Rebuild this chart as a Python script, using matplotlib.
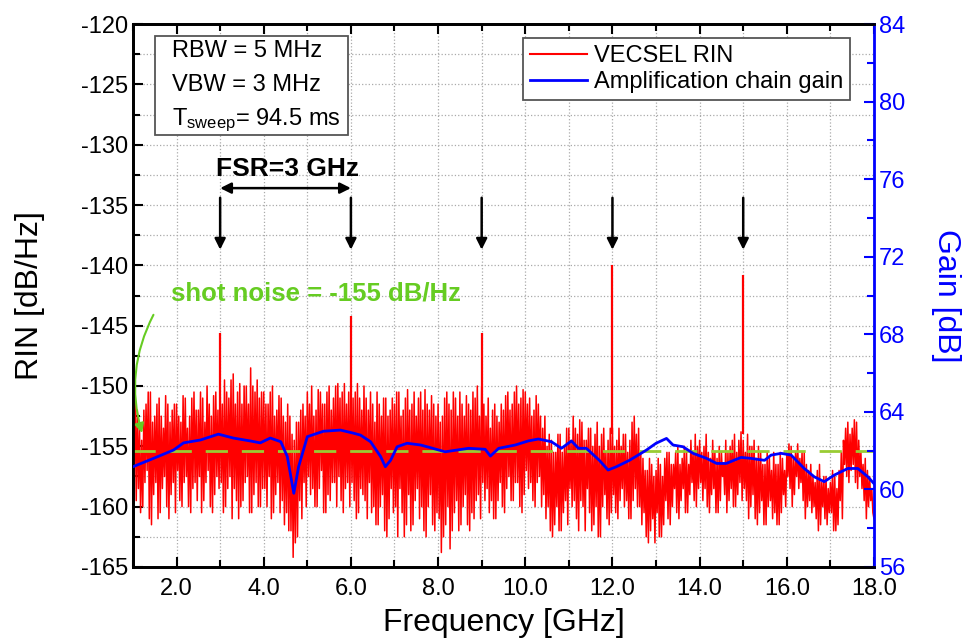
import matplotlib
matplotlib.use('Agg')
import matplotlib.pyplot as plt
from matplotlib.ticker import MultipleLocator, FormatStrFormatter
from matplotlib.lines import Line2D
from matplotlib.patches import Rectangle

plt.rcParams['font.family'] = ['Liberation Sans', 'DejaVu Sans']
plt.rcParams['axes.unicode_minus'] = False
plt.rcParams['mathtext.fontset'] = 'custom'
plt.rcParams['mathtext.rm'] = 'Liberation Sans'
plt.rcParams['mathtext.it'] = 'Liberation Sans:italic'

# ---------------- data ----------------
# RIN trace, sampled every 0.025 GHz as (max, min2, max2, min) per 0.1 GHz
# main maxima at 1.0, 1.1, ... 18.0 GHz
rin_hi = [
    -153.0, -152.0, -154.5, -151.5, -150.5, -152.5, -151.0, -153.5, -151.5, -152.0,  # 1.x
    -151.5, -153.0, -151.0, -152.5, -150.5, -152.0, -151.0, -150.0, -152.5, -150.5,  # 2.x
    -150.0, -149.5, -151.0, -149.0, -150.5, -151.5, -150.0, -148.5, -150.5, -151.0,  # 3.x
    -150.5, -151.5, -150.0, -152.0, -151.0, -153.0, -152.5, -154.5, -153.0, -151.5,  # 4.x
    -150.5, -150.0, -152.0, -150.5, -151.5, -150.0, -151.0, -149.8, -150.5, -151.5,  # 5.x
    -149.5, -150.5, -151.0, -150.0, -152.0, -151.5, -150.5, -152.5, -151.0, -152.0,  # 6.x
    -151.5, -150.5, -152.0, -150.3, -151.5, -152.5, -150.5, -150.3, -152.0, -151.5,  # 7.x
    -151.5, -152.5, -150.5, -152.0, -151.0, -150.5, -152.5, -151.5, -150.5, -150.0,  # 8.x
    -150.0, -152.5, -153.5, -151.5, -153.0, -152.0, -150.5, -151.5, -150.0, -151.0,  # 9.x
    -150.5, -151.0, -152.0, -151.5, -153.5, -155.0, -154.5, -155.5, -154.0, -155.0,  # 10.x
    -153.5, -152.5, -154.0, -153.0, -154.5, -153.5, -154.0, -155.0, -153.5, -154.5,  # 11.x
    -153.5, -154.5, -155.0, -154.0, -154.5, -152.5, -153.5, -156.0, -157.0, -156.5,  # 12.x
    -157.0, -156.5, -156.0, -155.5, -156.5, -155.0, -156.0, -155.5, -154.5, -154.0,  # 13.x
    -154.5, -155.0, -155.5, -154.5, -156.0, -155.5, -154.5, -155.0, -154.0, -154.5,  # 14.x
    -154.5, -154.0, -155.0, -156.0, -155.5, -156.5, -156.0, -155.5, -156.5, -156.0,  # 15.x
    -155.5, -155.0, -155.5, -156.0, -155.5, -157.0, -157.5, -157.0, -158.0, -157.5,  # 16.x
    -158.0, -157.5, -157.0, -154.5, -153.0, -153.5, -153.0, -155.5, -156.0, -157.5,  # 17.x
    -161.0,                                                                          # 18.0
]
# secondary minima at 1.025, 1.125, ... GHz
rin_lo2 = [
    -157.5, -158.5, -160.0, -157.0, -161.5, -158.0, -160.5, -157.5, -161.0, -158.0,
    -157.0, -160.0, -157.5, -160.5, -158.0, -157.5, -159.5, -157.0, -160.5, -157.5,
    -158.0, -160.0, -157.5, -158.5, -161.0, -159.5, -157.5, -160.5, -158.0, -160.0,
    -158.5, -157.5, -160.5, -158.0, -159.5, -160.5, -162.0, -163.0, -159.5, -158.0,
    -157.5, -158.5, -160.0, -157.0, -160.5, -159.5, -158.0, -157.5, -160.5, -158.0,
    -158.0, -161.0, -158.5, -159.5, -158.0, -160.0, -161.5, -159.0, -162.5, -158.5,
    -160.0, -158.5, -162.5, -159.0, -161.5, -158.5, -160.0, -162.5, -159.0, -162.0,
    -161.0, -162.5, -160.0, -162.0, -159.5, -161.5, -159.0, -162.0, -161.0, -159.0,
    -158.0, -158.5, -159.5, -161.0, -158.0, -160.5, -157.5, -159.5, -158.0, -160.5,
    -157.0, -158.0, -160.0, -157.5, -159.0, -160.0, -162.5, -160.0, -162.0, -159.5,
    -158.5, -159.5, -162.0, -160.0, -158.5, -162.0, -160.0, -162.5, -159.0, -161.5,
    -159.0, -161.0, -158.5, -159.5, -161.0, -158.5, -160.0, -160.5, -163.0, -161.0,
    -160.5, -162.5, -159.5, -161.5, -158.5, -161.0, -158.5, -160.5, -158.0, -160.0,
    -158.0, -158.5, -160.5, -158.5, -160.5, -157.5, -160.5, -158.5, -160.0, -158.0,
    -158.5, -161.0, -159.0, -161.5, -159.5, -161.5, -159.5, -160.5, -161.5, -159.0,
    -157.5, -160.0, -157.5, -158.0, -161.0, -159.5, -160.0, -162.0, -160.0, -161.5,
    -160.5, -162.0, -159.5, -156.5, -158.0, -156.5, -158.5, -158.5, -161.0, -159.5,
]
# secondary maxima at 1.05, 1.15, ... GHz
rin_hi2 = [
    -151.0, -153.5, -152.0, -150.5, -153.0, -151.5, -152.5, -150.8, -153.0, -151.5,
    -152.5, -150.8, -153.5, -151.0, -152.0, -150.5, -153.0, -151.5, -150.8, -152.0,
    -151.5, -150.5, -149.5, -151.5, -149.8, -150.0, -151.5, -150.0, -149.5, -150.5,
    -151.5, -150.5, -152.5, -150.8, -152.5, -151.5, -154.0, -153.0, -152.0, -152.5,
    -151.5, -152.5, -150.3, -151.5, -150.5, -152.0, -150.0, -151.0, -149.8, -150.5,
    -151.0, -149.8, -152.0, -151.0, -150.5, -153.0, -151.5, -151.0, -152.5, -151.0,
    -150.5, -152.5, -151.0, -152.0, -150.5, -151.0, -152.0, -151.5, -150.8, -152.5,
    -153.0, -151.0, -151.5, -150.5, -152.5, -151.5, -150.8, -152.0, -151.0, -152.5,
    -151.5, -151.0, -152.0, -152.5, -151.5, -150.8, -152.0, -150.5, -151.5, -150.3,
    -151.5, -152.5, -150.8, -152.5, -152.5, -154.0, -155.5, -154.0, -155.5, -153.5,
    -154.5, -153.5, -152.8, -154.5, -153.5, -155.0, -153.0, -154.0, -155.5, -153.5,
    -155.0, -153.5, -154.0, -155.5, -153.0, -154.0, -155.5, -157.0, -156.0, -157.5,
    -156.0, -157.5, -155.5, -156.5, -155.5, -156.5, -155.0, -156.5, -155.5, -155.0,
    -155.5, -154.0, -156.0, -155.5, -155.0, -156.5, -155.5, -154.5, -155.5, -153.8,
    -155.5, -155.0, -154.5, -155.0, -156.5, -155.5, -157.0, -156.5, -155.5, -157.0,
    -154.8, -156.0, -154.8, -155.5, -156.5, -156.5, -158.0, -156.5, -157.5, -158.5,
    -157.0, -158.5, -155.5, -153.5, -154.0, -152.8, -154.5, -156.5, -157.0, -158.5,
]
# main minima at 1.075, 1.175, ... GHz
rin_lo = [
    -159.5, -160.5, -158.0, -161.0, -159.0, -161.0, -158.5, -160.0, -159.0, -160.5,
    -159.5, -158.0, -160.0, -158.5, -159.5, -160.5, -158.0, -160.0, -159.0, -158.5,
    -160.5, -158.5, -161.0, -159.5, -160.0, -158.0, -160.5, -159.0, -160.0, -158.5,
    -160.0, -161.0, -159.0, -160.5, -161.5, -162.0, -164.2, -162.5, -161.0, -160.0,
    -159.0, -160.0, -158.5, -160.5, -159.0, -158.0, -160.0, -159.5, -158.5, -160.0,
    -159.5, -160.5, -159.0, -161.0, -160.5, -161.5, -160.0, -162.0, -161.0, -160.5,
    -162.5, -160.5, -161.5, -162.0, -159.5, -161.0, -162.0, -160.0, -161.5, -160.5,
    -163.8, -161.5, -163.5, -160.5, -162.0, -160.0, -161.5, -160.5, -159.5, -161.0,
    -159.5, -160.5, -161.0, -159.5, -160.0, -158.5, -159.5, -158.0, -160.0, -159.0,
    -158.5, -159.5, -158.0, -160.0, -161.0, -162.0, -161.5, -162.0, -160.5, -161.5,
    -160.0, -161.0, -159.5, -162.0, -160.5, -161.5, -162.5, -160.0, -161.0, -160.5,
    -160.5, -159.5, -160.0, -161.0, -159.5, -160.0, -161.5, -162.5, -162.0, -163.0,
    -162.5, -161.5, -161.0, -160.0, -160.5, -159.5, -160.5, -159.0, -159.5, -158.5,
    -159.5, -160.0, -159.0, -160.5, -159.5, -159.0, -159.5, -160.0, -159.0, -159.5,
    -159.5, -160.0, -161.0, -160.5, -161.5, -160.0, -161.0, -161.5, -160.5, -160.0,
    -158.5, -159.0, -158.5, -159.5, -160.0, -160.5, -161.0, -161.5, -161.0, -160.5,
    -162.0, -161.5, -161.0, -157.5, -157.0, -158.0, -157.5, -159.5, -160.0, -160.5,
]
# Cavity-mode peaks (FSR = 3 GHz)
spike_freqs = [3.0, 6.0, 9.0, 12.0, 15.0]
spike_peaks = [-145.6, -144.2, -145.6, -140.0, -140.8]
spike_base = -154.0

# Amplification chain gain (right axis, dB)
gain_freq = [1.0, 1.47, 1.93, 2.16, 2.55, 2.96, 3.3, 3.69, 3.92, 4.15, 4.39, 4.54, 4.69,
             4.8, 5.0, 5.37, 5.76, 6.06, 6.22, 6.45, 6.68, 6.79, 6.91, 7.06, 7.29, 7.6,
             7.83, 8.16, 8.7, 9.08, 9.2, 9.39, 9.77, 10.07, 10.3, 10.6, 10.83, 11.06,
             11.22, 11.4, 11.7, 11.9, 12.09, 12.39, 12.78, 13.0, 13.24, 13.39, 13.62,
             13.85, 14.16, 14.39, 14.61, 14.95, 15.18, 15.49, 15.64, 15.87, 16.1, 16.4,
             16.63, 16.86, 17.09, 17.4, 17.63, 17.86, 18.0]
gain_vals = [61.17, 61.6, 62.03, 62.4, 62.55, 62.85, 62.65, 62.5, 62.4, 62.65, 62.46, 61.7,
             59.8, 61.17, 62.72, 63.0, 63.06, 62.9, 62.8, 62.46, 61.7, 61.17, 61.5, 62.2,
             62.38, 62.29, 62.15, 61.94, 62.12, 62.07, 61.72, 62.12, 62.29, 62.5, 62.6,
             62.46, 62.12, 62.5, 62.12, 62.12, 61.5, 61.0, 61.17, 61.5, 62.03, 62.38,
             62.63, 62.29, 62.2, 61.86, 61.6, 61.34, 61.34, 61.65, 61.6, 61.5, 61.77,
             61.86, 61.77, 61.08, 60.65, 60.4, 60.74, 61.08, 61.08, 60.65, 60.3]

shot_noise_level = -155.4
arrow_freqs = [3.0, 6.0, 9.0, 12.0, 15.0]

# ---------------- build RIN trace ----------------
rin_freq, rin_vals = [], []
for i in range(len(rin_lo)):
    f0 = 1.0 + 0.1 * i
    rin_freq += [round(f0, 4), round(f0 + 0.025, 4), round(f0 + 0.05, 4), round(f0 + 0.075, 4)]
    rin_vals += [rin_hi[i], rin_lo2[i], rin_hi2[i], rin_lo[i]]
rin_freq.append(18.0)
rin_vals.append(rin_hi[-1])

# ---------------- figure ----------------
fig = plt.figure(figsize=(9.67, 6.39), dpi=100)
ax = fig.add_axes([0.1375, 0.1127, 0.7663, 0.8497])
ax2 = ax.twinx()

RED = '#ff0000'
BLUE = '#0000ff'
GREEN_T = '#66cc22'
GREEN_L = '#99cc33'

ax.plot(rin_freq, rin_vals, color=RED, lw=1.1, zorder=3)
ax.vlines(spike_freqs, spike_base, spike_peaks, color=RED, lw=1.6, zorder=3)
ax.axhline(shot_noise_level, color=GREEN_L, lw=2.0, dashes=(8, 5), zorder=5)

ax2.plot(gain_freq, gain_vals, color=BLUE, lw=2.0, zorder=4)

ax.set_xlim(1, 18)
ax.set_ylim(-165, -120)
ax2.set_ylim(56, 84)

ax.xaxis.set_major_locator(MultipleLocator(2))
ax.xaxis.set_minor_locator(MultipleLocator(1))
ax.xaxis.set_major_formatter(FormatStrFormatter('%.1f'))
ax.yaxis.set_major_locator(MultipleLocator(5))
ax.yaxis.set_minor_locator(MultipleLocator(2.5))
ax2.yaxis.set_major_locator(MultipleLocator(4))
ax2.yaxis.set_minor_locator(MultipleLocator(2))

ax.grid(True, which='both', color='#aaaaaa', ls=':', lw=0.9)
ax.set_axisbelow(True)

ax.tick_params(axis='both', which='both', direction='in', top=True, labelsize=17, width=1.5)
ax.tick_params(which='major', length=7)
ax.tick_params(which='minor', length=5)
ax.tick_params(axis='x', pad=8)
ax2.tick_params(axis='y', which='both', direction='in', colors=BLUE, labelsize=17, width=1.5)
ax2.tick_params(which='major', length=7)
ax2.tick_params(which='minor', length=5)

for s in ['left', 'bottom', 'top']:
    ax.spines[s].set_linewidth(2)
    ax2.spines[s].set_linewidth(2)
ax2.spines['right'].set_color(BLUE)
ax2.spines['right'].set_linewidth(2)

ax.set_xlabel('Frequency [GHz]', fontsize=23, labelpad=6)
ax.set_ylabel('RIN [dB/Hz]', fontsize=23, labelpad=26)
ax2.set_ylabel('Gain [dB]', fontsize=23, color=BLUE, rotation=270, labelpad=40)

# info box
ax.add_patch(Rectangle((0.0297, 0.7956), 0.2605, 0.1824, transform=ax.transAxes,
                       facecolor='white', edgecolor='#555555', lw=1.3, zorder=6))
ax.text(0.0526, 0.939, 'RBW = 5 MHz', transform=ax.transAxes, fontsize=17, zorder=7)
ax.text(0.0526, 0.877, 'VBW = 3 MHz', transform=ax.transAxes, fontsize=17, zorder=7)
ax.text(0.0526, 0.814, r'T$_{\mathrm{sweep}}$= 94.5 ms', transform=ax.transAxes,
        fontsize=17, zorder=7)

# arrows marking the cavity modes
for f in arrow_freqs:
    ax.annotate('', xy=(f, -138.7), xytext=(f, -134.4),
                arrowprops=dict(arrowstyle='-|>', color='black', lw=1.8,
                                mutation_scale=16, shrinkA=0, shrinkB=0), zorder=6)
ax.annotate('', xy=(arrow_freqs[0], -133.6), xytext=(arrow_freqs[1], -133.6),
            arrowprops=dict(arrowstyle='<|-|>', color='black', lw=1.8,
                            mutation_scale=16, shrinkA=0, shrinkB=0), zorder=6)
ax.text(4.55, -132.0, 'FSR=3 GHz', fontsize=19, fontweight='bold', ha='center', va='center')

# shot noise annotation
ax.text(1.87, -142.3, 'shot noise = -155 dB/Hz', fontsize=18.5, fontweight='bold',
        color=GREEN_T, ha='left', va='center')
ax.annotate('', xy=(1.21, -153.9), xytext=(1.47, -144.1),
            arrowprops=dict(arrowstyle='-|>', color=GREEN_T, lw=1.5, mutation_scale=14,
                            shrinkA=0, shrinkB=0, connectionstyle='arc3,rad=0.2'), zorder=6)

handles = [Line2D([], [], color=RED, lw=1.5), Line2D([], [], color=BLUE, lw=2)]
leg = ax2.legend(handles, ['VECSEL RIN', 'Amplification chain gain'], loc='upper right',
                 bbox_to_anchor=(0.9676, 0.974), borderaxespad=0, fontsize=17,
                 fancybox=False, framealpha=1, edgecolor='#555555', handlelength=2.4,
                 handletextpad=0.3, borderpad=0.3, labelspacing=0.15)
leg.get_frame().set_linewidth(1.3)

fig.savefig('out.png', dpi=100)
